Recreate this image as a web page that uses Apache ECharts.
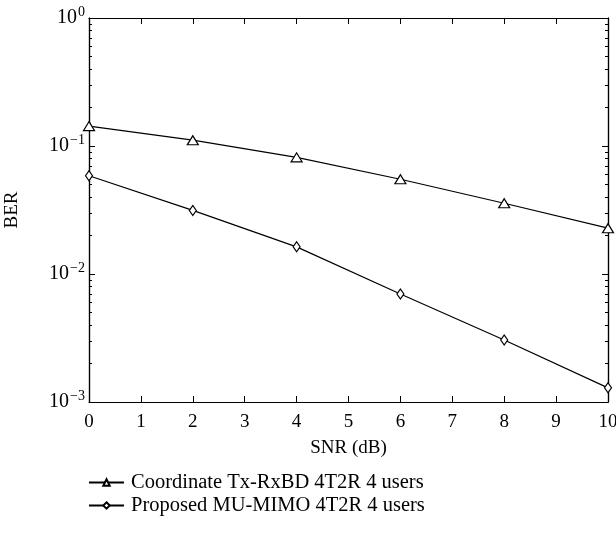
<!DOCTYPE html>
<html>
<head>
<meta charset="utf-8">
<script src="https://cdn.jsdelivr.net/npm/echarts@6/dist/echarts.min.js"></script>
<style>
  html, body { margin: 0; padding: 0; background: #fff; }
  #chart { width: 616px; height: 538px; }
</style>
</head>
<body>
<div id="chart"></div>
<script>
// 数据
const snr = [0, 2, 4, 6, 8, 10];
const berCoordinate = [0.143, 0.111, 0.0815, 0.055, 0.0357, 0.0228];
const berProposed = [0.0586, 0.0314, 0.0163, 0.00698, 0.00305, 0.00129];
const seriesNames = ['Coordinate Tx-RxBD 4T2R 4 users', 'Proposed MU-MIMO 4T2R 4 users'];
const majorTicks = [0.001, 0.01, 0.1, 1];
const minorTicks = [];
for (const d of [0.001, 0.01, 0.1]) {
  for (let k = 2; k <= 9; k++) minorTicks.push(+(d * k).toPrecision(3));
}

const FONT = 'Liberation Serif';
const sup = { '0': '0', '-1': '−1', '-2': '−2', '-3': '−3' };

// 组合点数据
function pairs(ys) {
  return snr.map((x, i) => [x, ys[i]]);
}

// 对数轴
function logAxis(position, ticks, len, showLabel) {
  return {
    type: 'log',
    logBase: 10,
    min: 0.001,
    max: 1,
    position: position,
    axisLine: { show: true, lineStyle: { color: '#000', width: 1.2 } },
    axisTick: { show: true, inside: true, length: len, customValues: ticks, lineStyle: { color: '#000', width: 1 } },
    axisLabel: {
      show: showLabel,
      customValues: showLabel ? majorTicks : undefined,
      margin: 4,
      formatter: function (v) {
        const e = Math.round(Math.log10(v));
        return '{b|10}{s|' + (sup[String(e)] || e) + '}';
      },
      rich: {
        b: { fontFamily: FONT, fontSize: 20, color: '#000' },
        s: { fontFamily: FONT, fontSize: 14, color: '#000', padding: [0, 0, 12, 1] }
      }
    },
    splitLine: { show: false },
    minorTick: { show: false }
  };
}

const chart = echarts.init(document.getElementById('chart'));
const option = {
  animation: false,
  grid: { left: 89, right: 8, top: 18, bottom: 136, outerBoundsMode: 'none', containLabel: false },
  legend: {
    orient: 'vertical',
    left: 88,
    top: 472,
    padding: 0,
    itemWidth: 35,
    itemHeight: 8,
    itemGap: 2,
    textStyle: { fontFamily: FONT, fontSize: 20.5, lineHeight: 20, color: '#000', padding: [0, 0, 0, 2] },
    data: seriesNames
  },
  xAxis: [
    {
      type: 'value',
      min: 0,
      max: 10,
      interval: 1,
      position: 'bottom',
      name: 'SNR (dB)',
      nameLocation: 'middle',
      nameGap: 37,
      nameTextStyle: { fontFamily: FONT, fontSize: 19, color: '#000' },
      axisLine: { lineStyle: { color: '#000', width: 1.2 } },
      axisTick: { inside: true, length: 6, lineStyle: { color: '#000' } },
      axisLabel: { fontFamily: FONT, fontSize: 19, color: '#000', margin: 11 },
      splitLine: { show: false }
    },
    {
      type: 'value',
      min: 0,
      max: 10,
      interval: 1,
      position: 'top',
      axisLine: { lineStyle: { color: '#000', width: 1.2 } },
      axisTick: { inside: true, length: 6, lineStyle: { color: '#000' } },
      axisLabel: { show: false },
      splitLine: { show: false }
    }
  ],
  yAxis: [
    Object.assign(logAxis('left', majorTicks, 6, true), {
      name: 'BER',
      nameLocation: 'middle',
      nameGap: 67,
      nameTextStyle: { fontFamily: FONT, fontSize: 19, color: '#000' }
    }),
    logAxis('left', minorTicks, 3, false),
    logAxis('right', majorTicks, 6, false),
    logAxis('right', minorTicks, 3, false)
  ],
  series: [
    {
      name: seriesNames[0],
      type: 'line',
      data: pairs(berCoordinate),
      symbol: 'triangle',
      symbolSize: [11, 9],
      lineStyle: { color: '#000', width: 1.2 },
      itemStyle: { color: '#fff', borderColor: '#000', borderWidth: 1.2 }
    },
    {
      name: seriesNames[1],
      type: 'line',
      data: pairs(berProposed),
      symbol: 'diamond',
      symbolSize: [7, 10],
      lineStyle: { color: '#000', width: 1.2 },
      itemStyle: { color: '#fff', borderColor: '#000', borderWidth: 1.2 }
    }
  ]
};
chart.setOption(option);
</script>
</body>
</html>
